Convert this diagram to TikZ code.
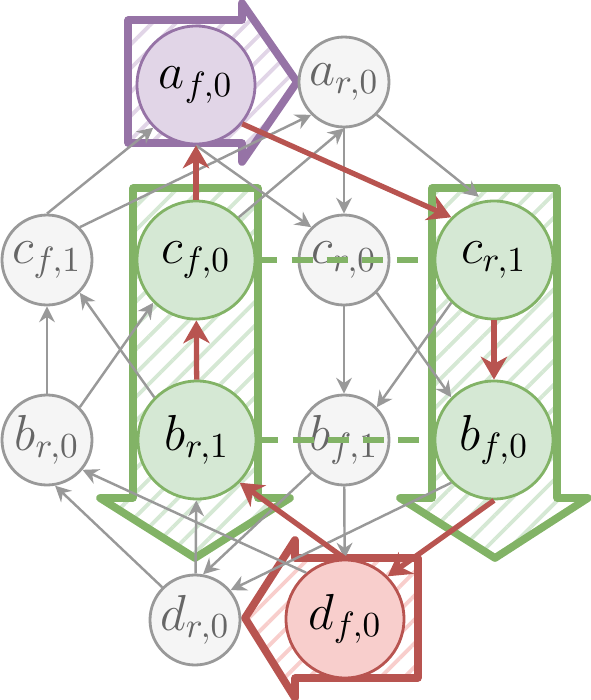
\documentclass[tikz,border=0pt]{standalone}
\usetikzlibrary{arrows.meta,patterns.meta}
\definecolor{grayline}{HTML}{999999}
\definecolor{grayfill}{HTML}{F5F5F5}
\definecolor{graytext}{HTML}{666666}
\definecolor{greenline}{HTML}{82B366}
\definecolor{greenfill}{HTML}{D5E8D4}
\definecolor{redline}{HTML}{B85450}
\definecolor{redfill}{HTML}{F8CECC}
\definecolor{purpleline}{HTML}{9673A6}
\definecolor{purplefill}{HTML}{E1D5E7}
\tikzset{>=Stealth,every node/.style={font=\Large},
 var/.style={circle,draw=grayline,fill=grayfill,text=graytext,line width=.8pt,minimum size=.9cm,inner sep=0pt},
 hot/.style={circle,line width=.8pt,minimum size=1.18cm,inner sep=0pt},
 dep/.style={draw=grayline,line width=.7pt,-{Stealth[length=4.5pt,width=4.5pt,inset=1.5pt]}},
 crit/.style={draw=redline,line width=1.5pt,-{Stealth[length=6.5pt,width=7.5pt,inset=2pt]}},
 block/.style={line width=2.2pt,line join=round,pattern={Lines[angle=45,distance=4.8pt,line width=1.1pt]}},
 tie/.style={draw=greenline,line width=1.5pt,dash pattern=on 6pt off 4pt}}

\begin{document}
\begin{tikzpicture}
\useasboundingbox (0,0) rectangle (5.91,7);
% hand drawn block arrows
\draw[block,draw=purpleline,pattern color=purplefill] (1.28,6.80)--(2.42,6.80)--(2.42,6.97)--(2.97,6.18)--(2.42,5.38)--(2.42,5.57)--(1.28,5.57)--cycle;
\draw[block,draw=greenline,pattern color=greenfill] (1.33,5.12)--(2.58,5.12)--(2.58,2.02)--(2.90,2.02)--(1.95,1.42)--(1.00,2.02)--(1.33,2.02)--cycle;
\draw[block,draw=greenline,pattern color=greenfill] (4.32,5.12)--(5.57,5.12)--(5.57,2.02)--(5.88,2.02)--(4.95,1.42)--(4.00,2.02)--(4.32,2.02)--cycle;
\draw[block,draw=redline,pattern color=redfill] (4.18,1.42)--(2.95,1.42)--(2.95,1.60)--(2.45,.82)--(2.95,.02)--(2.95,.22)--(4.18,.22)--cycle;
% nodes
\node[hot,draw=purpleline,fill=purplefill] (af0) at (1.96,6.15) {$a_{f,0}$};
\node[var] (ar0) at (3.44,6.18) {$a_{r,0}$};
\node[var] (cf1) at (.47,4.40) {$c_{f,1}$};
\node[hot,draw=greenline,fill=greenfill] (cf0) at (1.96,4.40) {$c_{f,0}$};
\node[var] (cr0) at (3.44,4.40) {$c_{r,0}$};
\node[hot,draw=greenline,fill=greenfill] (cr1) at (4.94,4.40) {$c_{r,1}$};
\node[var] (br0) at (.47,2.60) {$b_{r,0}$};
\node[hot,draw=greenline,fill=greenfill] (br1) at (1.97,2.60) {$b_{r,1}$};
\node[var] (bf1) at (3.44,2.60) {$b_{f,1}$};
\node[hot,draw=greenline,fill=greenfill] (bf0) at (4.94,2.60) {$b_{f,0}$};
\node[var] (dr0) at (1.95,.80) {$d_{r,0}$};
\node[hot,draw=redline,fill=redfill] (df0) at (3.45,.81) {$d_{f,0}$};
% gray dependencies
\draw[dep] (cf1.north)--(af0.225);
\draw[dep] (cf1.45)--(ar0.225);
\draw[dep] (cf0.45)--(ar0.south);
\draw[dep] (af0.south)--(cr0.135);
\draw[dep] (ar0)--(cr0);
\draw[dep,shorten >=.06cm] (ar0.-45)--(cr1.100);
\draw[dep] (br0)--(cf1);
\draw[dep] (br0.45)--(cf0.225);
\draw[dep] (br1.135)--(cf1.-45);
\draw[dep] (cr0)--(bf1);
\draw[dep] (cr1.225)--(bf1.45);
\draw[dep] (cr0.-45)--(bf0.135);
\draw[dep] (dr0.135)--(br0.-80);
\draw[dep] (df0.130)--(br0.-40);
\draw[dep] (dr0)--(br1);
\draw[dep] (bf1.225)--(dr0.80);
\draw[dep] (bf0.225)--(dr0.40);
\draw[dep] (bf1)--(df0);
% red path
\draw[crit] (cf0)--(af0);
\draw[crit] (af0.-40)--(cr1.135);
\draw[crit] (br1)--(cf0);
\draw[crit] (cr1)--(bf0);
\draw[crit] (df0.north)--(br1.-45);
\draw[crit] (bf0.south)--(df0.45);
% dashed ties
\draw[tie] (cf0)--(cr1);
\draw[tie] (br1)--(bf0);
\end{tikzpicture}
\end{document}
